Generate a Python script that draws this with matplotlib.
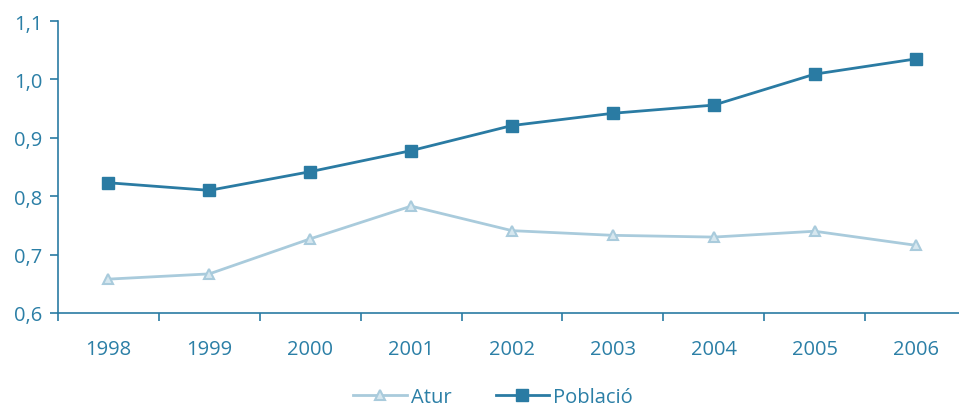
import matplotlib
matplotlib.use("Agg")
import matplotlib.pyplot as plt
import numpy as np

years = ["1998", "1999", "2000", "2001", "2002", "2003", "2004", "2005", "2006"]
atur = [0.658, 0.667, 0.727, 0.783, 0.741, 0.733, 0.730, 0.740, 0.716]
poblacio = [0.823, 0.810, 0.842, 0.878, 0.921, 0.942, 0.956, 1.009, 1.035]

dark = "#2a7ba3"
light = "#a9cbdc"
text_col = "#2b7fa6"

plt.rcParams["font.family"] = ["Open Sans", "DejaVu Sans"]

fig = plt.figure(figsize=(9.59, 4.10), dpi=100)
ax = fig.add_axes([58 / 959, 1 - 314 / 410, 908 / 959, 292 / 410])

x = np.arange(len(years))
ax.plot(x, atur, color=light, lw=2, marker="^", ms=7,
        markerfacecolor="#d6e7ef", markeredgecolor=light, markeredgewidth=1.5, label="Atur")
ax.plot(x, poblacio, color=dark, lw=2, marker="s", ms=8,
        markerfacecolor=dark, markeredgecolor=dark, label="Població")

ax.set_xlim(-0.5, len(years) - 0.5)
ax.set_ylim(0.6, 1.1)
ax.set_yticks([0.6, 0.7, 0.8, 0.9, 1.0, 1.1])
ax.set_yticklabels([f"{v:.1f}".replace(".", ",") for v in [0.6, 0.7, 0.8, 0.9, 1.0, 1.1]])
ax.set_xticks(x)
ax.set_xticklabels(years)
ax.set_xticks(np.arange(-0.5, len(years), 1), minor=True)

for s in ["top", "right"]:
    ax.spines[s].set_visible(False)
for s in ["left", "bottom"]:
    ax.spines[s].set_color(dark)
    ax.spines[s].set_linewidth(1.2)

ax.tick_params(axis="x", which="major", length=0, pad=19, labelsize=14.5, labelcolor=text_col)
ax.tick_params(axis="x", which="minor", length=6, width=1.2, color=dark)
ax.tick_params(axis="y", length=6, width=1.2, color=dark, pad=5, labelsize=14.5, labelcolor=text_col)

leg = fig.legend(loc="center", bbox_to_anchor=(493 / 959, 1 - 398 / 410), ncol=2, frameon=False,
                 fontsize=14.5, handlelength=2.65, columnspacing=2.2, handletextpad=0.2,
                 borderpad=0)
for t in leg.get_texts():
    t.set_color(text_col)

fig.savefig("out.png", dpi=100)
